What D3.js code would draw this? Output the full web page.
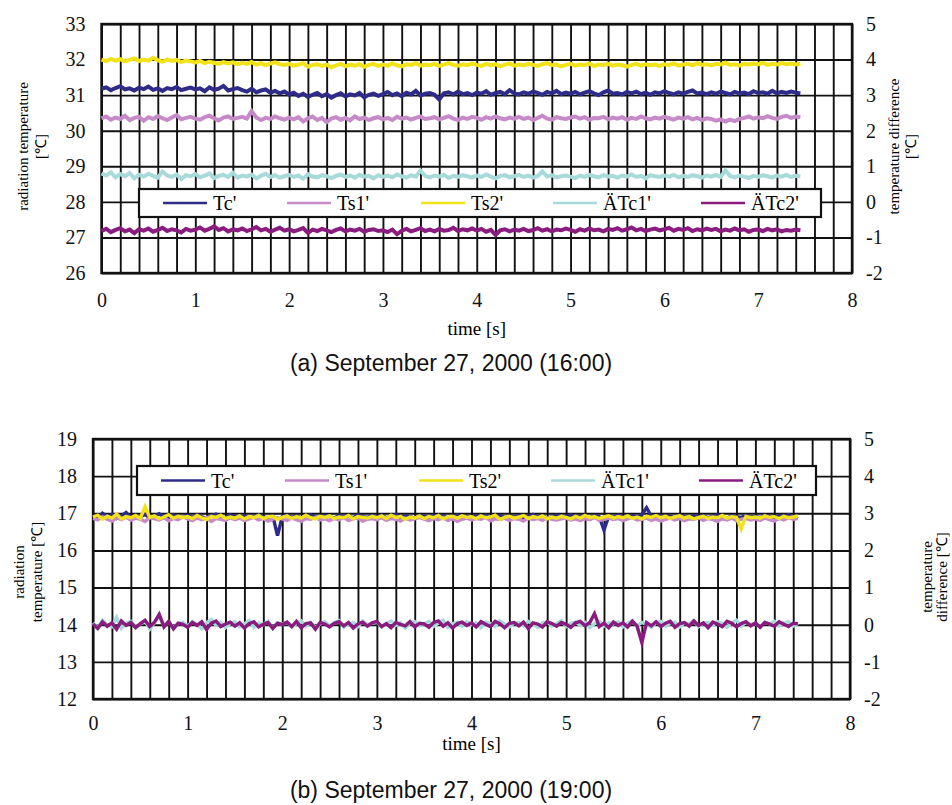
<!DOCTYPE html>
<html>
<head>
<meta charset="utf-8">
<script src="https://cdn.jsdelivr.net/npm/d3@7"></script>
<style>
	body { margin: 0; background: #fff; }
	svg { display: block; }
	.tick text { font-family: 'Liberation Serif', 'Times New Roman', serif; }
</style>
</head>
<body>
<script>
// legend / series
var seriesNames = ["Tc'", "Ts1'", "Ts2'", "ÄTc1'", "ÄTc2'"];
var seriesColors = ["#2e2c88", "#c68ac9", "#f2e21a", "#a9dadb", "#8a1c7f"];
var onRightAxis = [false, false, false, true, true];
var sampleStep = 0.05; // s between samples

var xTicks = [0, 1, 2, 3, 4, 5, 6, 7, 8];
var leftTicksA = [26, 27, 28, 29, 30, 31, 32, 33];
var leftTicksB = [12, 13, 14, 15, 16, 17, 18, 19];
var rightTicks = [-2, -1, 0, 1, 2, 3, 4, 5];

// (a) 16:00
var tcA = [31.18,31.22,31.14,31.20,31.25,31.16,31.19,31.13,31.21,31.17,
	31.24,31.15,31.19,31.12,31.20,31.17,31.23,31.14,31.18,31.21,
	31.16,31.19,31.11,31.22,31.15,31.18,31.26,31.13,31.17,31.20,
	31.14,31.10,31.18,31.08,31.13,31.16,31.07,31.12,31.05,31.10,
	31.02,31.07,30.98,31.04,30.95,31.01,31.06,30.97,31.03,30.93,
	31.00,31.05,30.96,31.02,30.99,31.06,30.94,31.01,31.04,30.98,
	31.03,31.09,31.00,31.05,30.97,31.07,31.02,31.12,30.99,31.04,
	31.06,31.01,30.88,31.05,31.08,31.02,31.10,31.03,31.06,31.00,
	31.07,31.04,31.11,31.01,31.06,31.09,31.03,31.14,31.05,31.02,
	31.08,31.04,31.10,31.06,31.01,31.09,31.05,31.12,31.03,31.07,
	31.04,31.09,31.02,31.07,31.11,31.05,31.00,31.08,31.13,31.04,
	31.06,31.02,31.09,31.05,31.10,31.03,31.07,31.01,31.08,31.05,
	31.11,31.06,31.02,31.08,31.04,31.09,31.13,31.05,31.07,31.03,
	31.08,31.04,31.10,31.06,31.02,31.09,31.05,31.07,31.03,31.11,
	31.06,31.08,31.04,31.12,31.05,31.09,31.06,31.10,31.07,31.05];
var ts1A = [30.35,30.40,30.31,30.37,30.33,30.42,30.30,30.36,30.39,30.28,
	30.38,30.33,30.41,30.35,30.30,30.37,30.44,30.32,30.36,30.39,
	30.34,30.31,30.38,30.42,30.35,30.29,30.37,30.40,30.33,30.36,
	30.39,30.34,30.55,30.37,30.30,30.36,30.33,30.40,30.35,30.31,
	30.37,30.32,30.38,30.26,30.35,30.40,30.30,30.36,30.24,30.34,
	30.38,30.31,30.36,30.29,30.40,30.33,30.37,30.30,30.35,30.38,
	30.32,30.36,30.30,30.39,30.34,30.37,30.31,30.36,30.40,30.33,
	30.35,30.38,30.32,30.36,30.41,30.34,30.30,30.37,30.33,30.39,
	30.36,30.31,30.38,30.34,30.40,30.35,30.32,30.37,30.34,30.39,
	30.33,30.37,30.30,30.36,30.42,30.34,30.31,30.38,30.35,30.33,
	30.37,30.40,30.34,30.38,30.31,30.36,30.35,30.39,30.32,30.37,
	30.34,30.38,30.31,30.36,30.33,30.40,30.35,30.32,30.37,30.34,
	30.39,30.35,30.31,30.37,30.34,30.38,30.32,30.36,30.30,30.35,
	30.33,30.28,30.32,30.26,30.31,30.27,30.33,30.36,30.40,30.34,
	30.38,30.35,30.41,30.36,30.33,30.39,30.42,30.36,30.40,30.38];
var ts2A = [32.00,31.96,32.02,31.97,32.01,31.95,31.99,32.03,31.96,32.00,
	31.97,32.05,31.98,31.94,32.00,31.96,31.99,31.93,31.97,31.95,
	31.92,31.96,31.90,31.94,31.91,31.88,31.93,31.89,31.92,31.87,
	31.91,31.88,31.93,31.86,31.90,31.84,31.89,31.92,31.87,31.85,
	31.88,31.83,31.86,31.90,31.80,31.85,31.87,31.82,31.86,31.78,
	31.84,31.88,31.81,31.86,31.83,31.87,31.80,31.85,31.88,31.82,
	31.86,31.83,31.89,31.84,31.81,31.87,31.85,31.90,31.83,31.86,
	31.84,31.88,31.82,31.86,31.90,31.85,31.83,31.87,31.84,31.89,
	31.85,31.82,31.88,31.84,31.87,31.81,31.86,31.89,31.83,31.86,
	31.84,31.88,31.85,31.82,31.87,31.90,31.84,31.86,31.81,31.85,
	31.88,31.83,31.86,31.84,31.89,31.82,31.86,31.85,31.88,31.83,
	31.86,31.84,31.80,31.85,31.88,31.83,31.87,31.84,31.86,31.82,
	31.87,31.85,31.89,31.83,31.86,31.88,31.84,31.90,31.85,31.87,
	31.84,31.88,31.86,31.91,31.85,31.87,31.83,31.88,31.86,31.89,
	31.87,31.91,31.85,31.88,31.86,31.90,31.87,31.89,31.86,31.88];
var dtc1A = [0.80,0.74,0.83,0.69,0.78,0.72,0.81,0.66,0.76,0.71,
	0.79,0.73,0.68,0.85,0.74,0.70,0.77,0.64,0.75,0.72,
	0.78,0.69,0.74,0.80,0.67,0.73,0.76,0.70,0.82,0.68,
	0.74,0.71,0.77,0.66,0.73,0.79,0.70,0.75,0.68,0.72,
	0.76,0.70,0.74,0.65,0.78,0.71,0.69,0.75,0.72,0.67,
	0.73,0.77,0.70,0.74,0.68,0.76,0.71,0.73,0.66,0.75,
	0.70,0.74,0.69,0.77,0.72,0.68,0.75,0.71,0.88,0.73,
	0.69,0.74,0.71,0.76,0.67,0.73,0.70,0.75,0.72,0.68,
	0.74,0.70,0.77,0.71,0.66,0.73,0.75,0.69,0.72,0.76,
	0.70,0.74,0.68,0.73,0.85,0.71,0.75,0.69,0.72,0.74,
	0.71,0.67,0.74,0.70,0.76,0.72,0.69,0.75,0.71,0.73,
	0.68,0.74,0.71,0.77,0.70,0.73,0.66,0.75,0.72,0.70,
	0.74,0.71,0.76,0.69,0.73,0.70,0.75,0.72,0.68,0.74,
	0.71,0.76,0.70,0.88,0.73,0.69,0.74,0.71,0.67,0.73,
	0.70,0.75,0.72,0.68,0.74,0.71,0.76,0.70,0.73,0.72];
var dtc2A = [-0.82,-0.76,-0.85,-0.79,-0.74,-0.83,-0.78,-0.88,-0.77,-0.81,
	-0.75,-0.84,-0.79,-0.73,-0.82,-0.77,-0.80,-0.86,-0.76,-0.81,
	-0.78,-0.72,-0.81,-0.76,-0.69,-0.79,-0.74,-0.83,-0.77,-0.80,
	-0.75,-0.82,-0.77,-0.71,-0.80,-0.76,-0.84,-0.78,-0.73,-0.81,
	-0.77,-0.83,-0.79,-0.74,-0.87,-0.78,-0.82,-0.76,-0.80,-0.85,
	-0.79,-0.75,-0.83,-0.78,-0.81,-0.76,-0.84,-0.79,-0.77,-0.82,
	-0.80,-0.85,-0.78,-0.91,-0.81,-0.76,-0.83,-0.79,-0.74,-0.82,
	-0.78,-0.83,-0.76,-0.81,-0.79,-0.73,-0.82,-0.77,-0.80,-0.75,
	-0.81,-0.76,-0.84,-0.79,-0.93,-0.80,-0.77,-0.83,-0.78,-0.81,
	-0.76,-0.82,-0.79,-0.74,-0.81,-0.77,-0.83,-0.78,-0.80,-0.75,
	-0.79,-0.84,-0.77,-0.81,-0.75,-0.80,-0.78,-0.83,-0.76,-0.79,
	-0.74,-0.81,-0.77,-0.72,-0.80,-0.76,-0.82,-0.78,-0.75,-0.80,
	-0.77,-0.73,-0.81,-0.76,-0.79,-0.74,-0.82,-0.77,-0.80,-0.75,
	-0.79,-0.76,-0.83,-0.78,-0.81,-0.75,-0.80,-0.77,-0.84,-0.79,
	-0.78,-0.82,-0.76,-0.80,-0.77,-0.83,-0.79,-0.81,-0.78,-0.80];

// (b) 19:00
var tcB = [16.95,16.88,17.00,16.91,16.97,16.86,16.93,17.02,16.89,16.94,
	16.90,16.97,16.87,16.93,16.99,16.88,16.92,16.96,16.85,16.91,
	16.94,16.89,16.96,16.90,16.87,16.93,16.98,16.91,16.88,16.95,
	16.92,16.89,16.94,16.87,16.91,16.96,16.90,16.88,16.93,16.40,
	16.91,16.95,16.89,16.93,16.87,16.92,16.96,16.90,16.88,16.94,
	16.91,16.87,16.95,16.90,16.93,16.88,16.96,16.91,16.89,16.94,
	16.90,16.95,16.88,16.92,16.97,16.89,16.93,16.91,16.87,16.94,
	16.92,16.88,16.95,16.90,16.93,16.87,16.91,16.96,16.89,16.92,
	16.88,16.93,16.90,16.95,16.87,16.91,16.94,16.89,16.92,16.90,
	16.94,16.88,16.92,16.97,16.90,16.93,16.87,16.91,16.95,16.89,
	16.92,16.96,16.89,16.93,16.90,16.88,16.94,16.91,16.55,16.92,
	16.89,16.95,16.91,16.88,16.93,16.90,16.96,17.15,16.92,16.89,
	16.94,16.90,16.92,16.88,16.95,16.91,16.89,16.93,16.90,16.94,
	16.88,16.92,16.96,16.90,16.87,16.93,16.91,16.89,16.94,16.90,
	16.92,16.88,16.95,16.91,16.89,16.93,16.90,16.96,16.88,16.92];
var ts1B = [16.86,16.82,16.91,16.84,16.79,16.88,16.83,16.90,16.81,16.87,
	16.84,16.78,16.89,16.85,16.82,16.88,16.80,16.86,16.83,16.91,
	16.85,16.80,16.87,16.83,16.89,16.78,16.86,16.84,16.81,16.88,
	16.83,16.87,16.80,16.85,16.89,16.82,16.86,16.79,16.84,16.88,
	16.85,16.81,16.87,16.83,16.78,16.86,16.84,16.89,16.82,16.85,
	16.80,16.86,16.83,16.88,16.81,16.85,16.87,16.79,16.84,16.86,
	16.83,16.88,16.81,16.86,16.84,16.79,16.87,16.82,16.85,16.89,
	16.84,16.80,16.86,16.83,16.88,16.81,16.85,16.78,16.84,16.87,
	16.82,16.86,16.84,16.89,16.80,16.85,16.83,16.87,16.81,16.86,
	16.84,16.79,16.87,16.83,16.86,16.81,16.88,16.84,16.82,16.85,
	16.87,16.82,16.85,16.80,16.86,16.83,16.89,16.81,16.84,16.87,
	16.83,16.86,16.80,16.85,16.88,16.82,16.84,16.87,16.81,16.85,
	16.79,16.84,16.87,16.82,16.86,16.80,16.85,16.83,16.88,16.81,
	16.86,16.83,16.78,16.85,16.82,16.87,16.80,16.84,16.86,16.82,
	16.85,16.81,16.87,16.83,16.79,16.86,16.82,16.88,16.84,16.86];
var ts2B = [16.90,16.95,16.84,16.92,16.87,16.98,16.85,16.91,16.88,16.94,
	16.86,17.18,16.89,16.93,16.85,16.90,16.96,16.87,16.92,16.88,
	16.91,16.86,16.94,16.88,16.83,16.92,16.89,16.95,16.86,16.90,
	16.87,16.93,16.85,16.91,16.88,16.94,16.86,16.90,16.92,16.84,
	16.89,16.93,16.86,16.91,16.87,16.95,16.88,16.85,16.92,16.89,
	16.93,16.86,16.90,16.88,16.94,16.85,16.91,16.89,16.87,16.92,
	16.88,16.93,16.86,16.95,16.89,16.91,16.84,16.90,16.87,16.93,
	16.86,16.91,16.88,16.94,16.85,16.90,16.92,16.87,16.93,16.89,
	16.91,16.86,16.93,16.88,16.90,16.95,16.84,16.89,16.92,16.87,
	16.90,16.94,16.86,16.91,16.88,16.93,16.85,16.90,16.87,16.92,
	16.89,16.85,16.92,16.87,16.94,16.88,16.91,16.86,16.90,16.93,
	16.87,16.91,16.88,16.93,16.86,16.90,16.85,16.92,16.89,16.94,
	16.88,16.92,16.86,16.90,16.93,16.87,16.91,16.85,16.89,16.92,
	16.86,16.90,16.88,16.94,16.87,16.91,16.89,16.58,16.92,16.88,
	16.90,16.87,16.93,16.89,16.91,16.86,16.92,16.88,16.90,16.93];
var dtc1B = [0.05,-0.08,0.12,0.00,-0.05,0.20,-0.10,0.04,0.09,-0.06,
	0.02,0.10,-0.12,0.06,0.24,-0.03,0.08,-0.09,0.03,0.07,
	-0.04,0.09,0.01,-0.11,0.05,0.14,-0.02,0.06,-0.08,0.03,
	0.08,-0.05,0.02,0.11,-0.07,0.04,0.00,0.09,-0.10,0.05,
	0.01,0.07,-0.06,0.03,0.10,-0.04,0.06,-0.08,0.02,0.08,
	-0.03,0.05,0.11,-0.07,0.02,0.06,-0.05,0.09,0.00,0.04,
	0.07,-0.06,0.03,0.10,-0.02,0.05,-0.09,0.04,0.08,-0.03,
	0.02,0.09,-0.05,0.04,0.12,-0.07,0.03,0.06,-0.04,0.08,
	0.00,0.05,-0.08,0.07,0.03,-0.05,0.10,0.02,-0.06,0.04,
	0.06,-0.03,0.09,0.01,-0.07,0.05,0.08,-0.04,0.03,0.11,
	-0.05,0.04,0.07,-0.02,0.06,-0.08,0.03,0.09,-0.04,0.05,
	0.02,0.08,-0.06,0.04,0.10,-0.03,0.06,0.01,-0.07,0.05,
	0.09,-0.04,0.03,0.07,-0.06,0.05,0.02,0.11,-0.05,0.04,
	0.06,-0.02,0.08,0.03,-0.07,0.05,0.12,-0.04,0.06,0.01,
	0.04,-0.06,0.07,0.02,0.09,-0.03,0.05,0.08,-0.04,0.03];
var dtc2B = [0.02,-0.10,0.08,-0.04,0.05,-0.12,0.10,-0.02,0.06,-0.08,
	0.03,0.12,-0.05,0.07,0.28,-0.06,0.09,-0.11,0.04,0.01,
	-0.07,0.06,-0.02,0.08,-0.13,0.04,0.10,-0.05,0.02,0.07,
	-0.04,0.05,-0.09,0.03,0.08,-0.06,0.01,0.06,-0.10,0.04,
	0.00,0.07,-0.05,0.09,-0.08,0.03,0.05,-0.12,0.06,0.02,
	-0.06,0.04,0.08,-0.03,0.06,-0.09,0.02,0.07,-0.04,0.05,
	0.09,-0.05,0.03,-0.08,0.06,0.01,-0.03,0.08,-0.06,0.04,
	0.02,-0.07,0.06,0.10,-0.04,0.05,-0.09,0.03,0.07,-0.02,
	0.05,-0.06,0.08,0.01,-0.05,0.09,0.03,-0.08,0.04,0.06,
	-0.03,0.07,-0.10,0.05,0.02,-0.06,0.08,0.03,-0.04,0.06,
	0.01,-0.07,0.05,0.09,-0.03,0.06,0.30,-0.05,0.04,-0.08,
	0.07,-0.02,0.05,-0.06,0.10,-0.04,-0.48,0.06,-0.03,0.08,
	-0.05,0.04,0.09,-0.07,0.03,0.06,-0.04,0.10,-0.02,0.05,
	-0.08,0.07,0.02,-0.05,0.09,0.04,-0.06,0.03,0.08,-0.03,
	0.05,-0.07,0.06,0.02,-0.04,0.08,0.01,-0.05,0.04,0.03];

var width = 952, height = 805;
var svg = d3.select("body").append("svg")
	.attr("width", width)
	.attr("height", height);

var serif = "'Liberation Serif', 'Times New Roman', serif";
var sans = "'Liberation Sans', Arial, sans-serif";
// plain hyphen for negatives, like the original
var intFmt = function (d) { return String(d) };

function drawPanel(p) {
	var x = d3.scaleLinear().domain([0, 8]).range([p.left, p.right]);
	var yL = d3.scaleLinear().domain(d3.extent(p.leftTicks)).range([p.bottom, p.top]);
	var yR = d3.scaleLinear().domain(d3.extent(rightTicks)).range([p.bottom, p.top]);
	var h = p.bottom - p.top, w = p.right - p.left;
	var g = svg.append("g");

	// grid: every 0.2 s, every 1 degree
	g.append("g")
		.attr("transform", "translate(0," + p.bottom + ")")
		.call(d3.axisBottom(x).ticks(40).tickSize(-h).tickFormat(""))
		.call(function (s) {
			s.select(".domain").remove();
			s.selectAll("line").attr("stroke", "#111").attr("stroke-width", 1.9);
		});
	g.append("g")
		.attr("transform", "translate(" + p.left + ",0)")
		.call(d3.axisLeft(yL).tickValues(p.leftTicks).tickSize(-w).tickFormat(""))
		.call(function (s) {
			s.select(".domain").remove();
			s.selectAll("line").attr("stroke", "#111").attr("stroke-width", 1.9);
		});
	g.append("rect")
		.attr("x", p.left).attr("y", p.top)
		.attr("width", w).attr("height", h)
		.attr("fill", "none").attr("stroke", "#111").attr("stroke-width", 2.4);

	// series
	p.series.forEach(function (vals, k) {
		var ys = onRightAxis[k] ? yR : yL;
		var line = d3.line()
			.x(function (d, i) { return x(i * sampleStep) })
			.y(function (d) { return ys(d) });
		g.append("path")
			.datum(vals)
			.attr("d", line)
			.attr("fill", "none")
			.attr("stroke", seriesColors[k])
			.attr("stroke-width", p.lineWidth)
			.attr("stroke-linejoin", "miter");
	});

	// legend
	var lg = g.append("g").attr("transform", "translate(" + p.legX + "," + p.legY + ")");
	lg.append("rect")
		.attr("width", p.legW).attr("height", p.legH)
		.attr("fill", "#fff").attr("stroke", "#111").attr("stroke-width", 2.2);
	var legOffsets = [24, 148, 282, 414, 562];
	seriesNames.forEach(function (name, k) {
		lg.append("line")
			.attr("x1", legOffsets[k]).attr("x2", legOffsets[k] + 44)
			.attr("y1", p.legH / 2).attr("y2", p.legH / 2)
			.attr("stroke", seriesColors[k]).attr("stroke-width", 2.5);
		lg.append("text")
			.attr("x", legOffsets[k] + 50).attr("y", p.legH / 2)
			.attr("dy", "0.35em")
			.style("font-family", serif).style("font-size", "20px")
			.text(name);
	});

	// axes labels
	var axL = g.append("g")
		.attr("transform", "translate(" + (p.left - 16) + ",0)")
		.call(d3.axisLeft(yL).tickValues(p.leftTicks).tickFormat(intFmt).tickSize(0).tickPadding(0));
	var axR = g.append("g")
		.attr("transform", "translate(" + (p.right + 14) + ",0)")
		.call(d3.axisRight(yR).tickValues(rightTicks).tickFormat(intFmt).tickSize(0).tickPadding(0));
	var axB = g.append("g")
		.attr("transform", "translate(0," + p.tickY + ")")
		.call(d3.axisBottom(x).tickValues(xTicks).tickFormat(intFmt).tickSize(0).tickPadding(0));
	[axL, axR, axB].forEach(function (a) {
		a.select(".domain").remove();
		a.attr("font-family", serif).attr("font-size", 20);
		a.selectAll("text").attr("fill", "#111").style("font-size", "20px");
	});
	axB.selectAll("text").attr("dy", "0.35em").attr("y", 0);

	g.append("text")
		.attr("x", (p.left + p.right) / 2).attr("y", p.timeY)
		.attr("text-anchor", "middle").attr("dy", "0.35em")
		.style("font-family", serif).style("font-size", "19px")
		.text("time [s]");

	function vtitle(lines, xs, cy) {
		lines.forEach(function (t, i) {
			g.append("text")
				.attr("transform", "translate(" + xs[i] + "," + cy + ") rotate(-90)")
				.attr("text-anchor", "middle").attr("dy", "0.35em")
				.style("font-family", serif).style("font-size", "15px")
				.text(t);
		});
	}
	vtitle(p.leftTitle, p.leftTitleX, (p.top + p.bottom) / 2 + p.leftTitleShift);
	vtitle(p.rightTitle, p.rightTitleX, (p.top + p.bottom) / 2 + p.rightTitleShift);

	g.append("text")
		.attr("x", 451).attr("y", p.captionY)
		.attr("text-anchor", "middle").attr("dy", "0.35em")
		.style("font-family", sans).style("font-size", "23px")
		.attr("fill", "#111")
		.text(p.caption);
}

drawPanel({
	left: 101.5, right: 852, top: 24, bottom: 273,
	leftTicks: leftTicksA, lineWidth: 4,
	series: [tcA, ts1A, ts2A, dtc1A, dtc2A],
	legX: 139, legY: 189, legW: 682, legH: 28,
	tickY: 300, timeY: 328, captionY: 363,
	leftTitle: ["radiation temperature", "[℃]"], leftTitleX: [23, 41], leftTitleShift: -2,
	rightTitle: ["temperature difference", "[℃]"], rightTitleX: [894, 911], rightTitleShift: -2,
	caption: "(a) September 27, 2000 (16:00)"
});

drawPanel({
	left: 93, right: 850, top: 439, bottom: 699,
	leftTicks: leftTicksB, lineWidth: 3.4,
	series: [tcB, ts1B, ts2B, dtc1B, dtc2B],
	legX: 137, legY: 466, legW: 679, legH: 29,
	tickY: 723, timeY: 743, captionY: 790,
	leftTitle: ["radiation", "temperature [℃]"], leftTitleX: [19, 37], leftTitleShift: 3,
	rightTitle: ["temperature", "difference [℃]"], rightTitleX: [927, 942], rightTitleShift: 8,
	caption: "(b) September 27, 2000 (19:00)"
});
</script>
</body>
</html>
